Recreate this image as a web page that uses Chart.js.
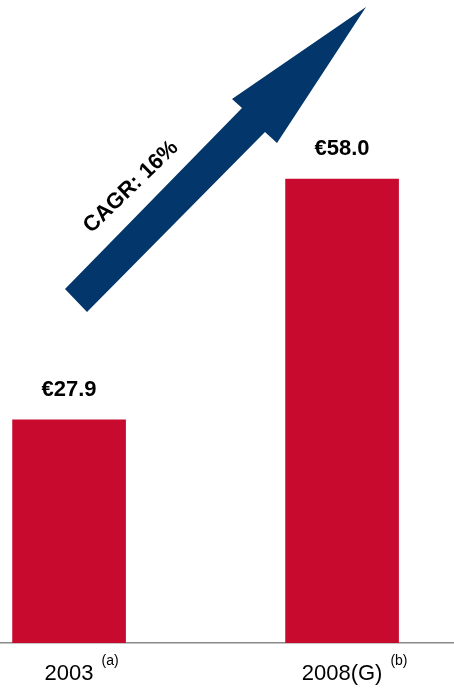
<!DOCTYPE html>
<html>
<head>
<meta charset="utf-8">
<script src="https://cdn.jsdelivr.net/npm/chart.js@4/dist/chart.umd.min.js"></script>
<style>
  html, body { margin: 0; padding: 0; background: #fff; }
  canvas { display: block; }
</style>
</head>
<body>
<canvas id="revenueChart" width="454" height="690"></canvas>
<script>
const categories = ['2003', '2008(G)'];
const revenue = [27.9, 58.0];
const notes = ['(a)', '(b)'];
const cagrLabel = 'CAGR: 16%';

const RED = '#C80A2F';
const NAVY = '#03366A';
const FONT = '"Liberation Sans", Arial, sans-serif';

// growth arrow outline, in canvas pixels
const arrowShape = [
    [65, 289], [242, 108], [232, 99], [366, 7],
    [277, 143], [265, 132], [87, 312]
];

const decorations = {
    id: 'decorations',
    afterDraw(chart) {
        const ctx = chart.ctx;
        const xScale = chart.scales.x;
        const bars = chart.getDatasetMeta(0).data;

        // arrow + CAGR text
        ctx.save();
        ctx.fillStyle = NAVY;
        ctx.beginPath();
        arrowShape.forEach(([x, y], i) => i ? ctx.lineTo(x, y) : ctx.moveTo(x, y));
        ctx.closePath();
        ctx.fill();

        ctx.translate(131, 187);
        ctx.rotate(-44 * Math.PI / 180);
        ctx.fillStyle = '#000';
        ctx.font = 'bold 22px ' + FONT;
        ctx.textAlign = 'center';
        ctx.textBaseline = 'middle';
        ctx.fillText(cagrLabel, 0, 0);
        ctx.restore();

        // values above the bars
        ctx.save();
        ctx.fillStyle = '#000';
        ctx.font = 'bold 22px ' + FONT;
        ctx.textAlign = 'center';
        ctx.textBaseline = 'middle';
        bars.forEach((bar, i) => {
            ctx.fillText('€' + revenue[i].toFixed(1), bar.x, bar.y - 30);
        });
        ctx.restore();

        // footnote markers next to the year labels
        ctx.save();
        ctx.fillStyle = '#000';
        ctx.textAlign = 'left';
        ctx.textBaseline = 'middle';
        categories.forEach((cat, i) => {
            ctx.font = '22px ' + FONT;
            const w = ctx.measureText(cat).width;
            const x = xScale.getPixelForValue(i) + w / 2 + 8;
            ctx.font = '14px ' + FONT;
            ctx.fillText(notes[i], x, xScale.top + 18);
        });
        ctx.restore();
    }
};

new Chart(document.getElementById('revenueChart'), {
    type: 'bar',
    data: {
        datasets: [{
            data: revenue.map((v, i) => ({ x: i, y: v })),
            backgroundColor: RED,
            borderWidth: 0,
            barThickness: 113
        }]
    },
    options: {
        responsive: false,
        animation: false,
        layout: { padding: { top: 3, bottom: 3, left: 0, right: 0 } },
        plugins: {
            legend: { display: false },
            tooltip: { enabled: false }
        },
        scales: {
            x: {
                type: 'linear',
                offset: false,
                min: -0.253,
                max: 1.41,
                afterBuildTicks: scale => {
                    scale.ticks = categories.map((c, i) => ({ value: i }));
                },
                afterFit: scale => { scale.height = 44; },
                ticks: {
                    callback: v => categories[v],
                    color: '#000',
                    font: { family: FONT, size: 22 },
                    padding: 18,
                    autoSkip: false,
                    maxRotation: 0
                },
                grid: { display: false, drawTicks: false },
                border: { display: true, color: '#8a8a8a', width: 1.5 }
            },
            y: {
                display: false,
                min: 0,
                max: 80
            }
        }
    },
    plugins: [decorations]
});
</script>
</body>
</html>
